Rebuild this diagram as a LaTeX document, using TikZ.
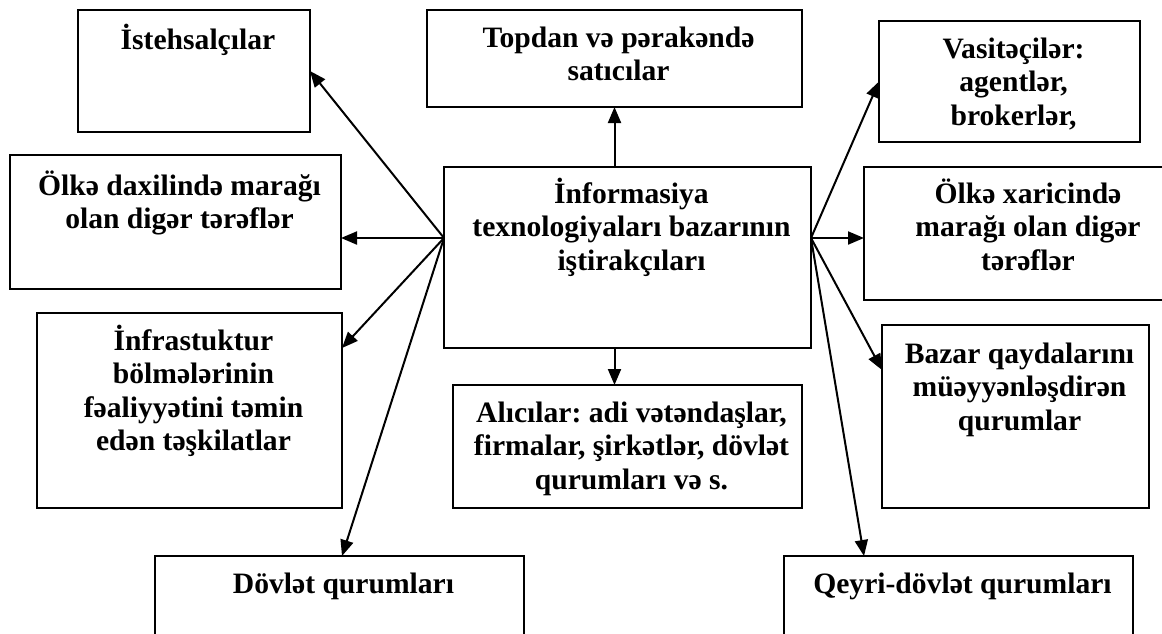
\documentclass[tikz,border=0pt]{standalone}
\usepackage{fontspec}
\setmainfont{Liberation Serif}
\usetikzlibrary{arrows.meta}
\frenchspacing
\setlength{\lineskiplimit}{-10pt}

\begin{document}
\begin{tikzpicture}[x=0.5pt, y=-0.5pt, line width=1pt, >={Triangle[length=8pt,width=6.5pt]},
		box/.style={draw, rectangle, anchor=north west, inner sep=0pt, outer sep=0pt},
		txt/.style={anchor=base, align=flush center, text width=190pt, inner sep=0pt, xshift=2pt, font=\bfseries\fontsize{14.8}{16.75}\selectfont}]
		\useasboundingbox (0,0) rectangle (1162,633);
		\clip (0,0) rectangle (1162,633);
		%
		\node[box, minimum width=183.5pt, minimum height=90.5pt] (mid) at (444,167) {};
		\node[box, minimum width=116pt, minimum height=61pt] (ist) at (78,10) {};
		\node[box, minimum width=187.5pt, minimum height=48.5pt] (top) at (427,10) {};
		\node[box, minimum width=165.5pt, minimum height=67pt] (olk) at (10,155) {};
		\node[box, minimum width=130.5pt, minimum height=60.5pt] (vas) at (879,21) {};
		\node[box, minimum width=160pt, minimum height=66.5pt] (xar) at (864,167) {};
		\node[box, minimum width=152.5pt, minimum height=97.5pt] (inf) at (37,313) {};
		\node[box, minimum width=174.5pt, minimum height=61.5pt] (ali) at (453,385) {};
		\node[box, minimum width=133.5pt, minimum height=91.5pt] (baz) at (882,325) {};
		\node[box, minimum width=184.5pt, minimum height=60pt] (dov) at (155,556) {};
		\node[box, minimum width=174.5pt, minimum height=60pt] (qey) at (784,556) {};
		%
		\node[txt] (mid-t) at ([yshift=-18pt]mid.north) {İnformasiya\\texnologiyaları bazarının\\iştirakçıları};
		\node[txt] (ist-t) at ([yshift=-19.5pt]ist.north) {İstehsalçılar};
		\node[txt] (top-t) at ([yshift=-18.5pt]top.north) {Topdan və pərakəndə\\satıcılar};
		\node[txt] (olk-t) at ([yshift=-20pt]olk.north) {Ölkə daxilində marağı\\olan digər tərəflər};
		\node[txt] (vas-t) at ([yshift=-18.5pt]vas.north) {Vasitəçilər:\\agentlər,\\brokerlər,};
		\node[txt] (xar-t) at ([yshift=-18pt]xar.north) {Ölkə xaricində\\marağı olan digər\\tərəflər};
		\node[txt] (inf-t) at ([yshift=-18.5pt]inf.north) {İnfrastuktur\\bölmələrinin\\fəaliyyətini təmin\\edən təşkilatlar};
		\node[txt] (ali-t) at ([yshift=-18.5pt]ali.north) {Alıcılar: adi vətəndaşlar,\\firmalar, şirkətlər, dövlət\\qurumları və s.};
		\node[txt] (baz-t) at ([yshift=-19pt]baz.north) {Bazar qaydalarını\\müəyyənləşdirən\\qurumlar};
		\node[txt] (dov-t) at ([yshift=-18.5pt]dov.north) {Dövlət qurumları};
		\node[txt] (qey-t) at ([yshift=-18.5pt]qey.north) {Qeyri-dövlət qurumları};
		%
		\coordinate (srcL) at (mid.west |- 0,238);
		\coordinate (srcR) at (mid.east |- 0,238);
		%
		\draw [->] (srcL) to (ist.east);
		\draw [->] (srcL) to (olk.east |- srcL);
		\draw [->] (srcL) to (inf.east |- mid.south);
		\draw [->] (srcL) to (dov.north -| inf.east);
		\draw [->] (srcR) to (vas.west);
		\draw [->] (srcR) to (xar.west |- srcR);
		\draw [->] (srcR) to ([yshift=-22.5pt]baz.north west);
		\draw [->] (srcR) to (qey.north -| xar.west);
		\draw [->] (top.south |- mid.north) to (top.south);
		\draw [->] (top.south |- mid.south) to (top.south |- ali.north);
	\end{tikzpicture}
\end{document}
